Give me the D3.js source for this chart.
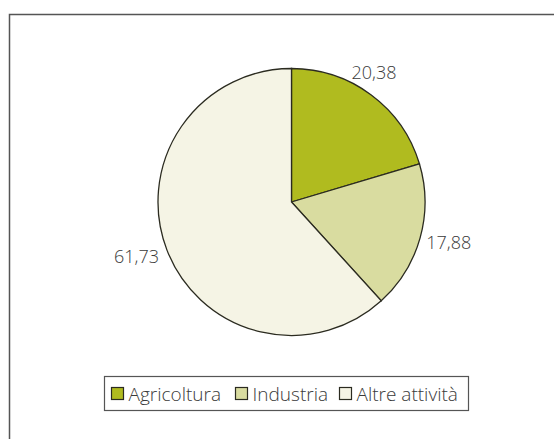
<!DOCTYPE html>
<html>
<head>
<meta charset="utf-8">
<script src="https://cdn.jsdelivr.net/npm/d3@7"></script>
<style>
  body { margin: 0; background: #fff; }
  text { font-family: "Open Sans", "Noto Sans", sans-serif; font-weight: 300; fill: #3a3a3a; }
</style>
</head>
<body>
<div id="chart"></div>
<script>
// data
var categories = ["Agricoltura", "Industria", "Altre attività"]
var values = [20.38, 17.88, 61.73]
var labels = ["20,38", "17,88", "61,73"]
var colors = ["#b0bb1f", "#d9dca0", "#f5f4e5"]

/**
 * Draw the pie chart with its legend
 */
function drawPieChart() {
    var width = 554, height = 439
    var cx = 291.5, cy = 202, radius = 133.5

    var svg = d3.select("#chart")
        .append("svg")
        .attr("width", width)
        .attr("height", height)

    // outer frame (open to the right and bottom, as in the picture)
    svg.append("rect")
        .attr("x", 9.5).attr("y", 14.5)
        .attr("width", 600).attr("height", 500)
        .attr("fill", "none")
        .attr("stroke", "#555")
        .attr("stroke-width", 1.5)

    var color = d3.scaleOrdinal().domain(categories).range(colors)

    var pie = d3.pie().sort(null).value(function (d) { return d.value })
    var data_ready = pie(categories.map(function (c, i) {
        return { key: c, value: values[i], label: labels[i] }
    }))

    var arc = d3.arc().innerRadius(0).outerRadius(radius)
    var g = svg.append("g").attr("transform", "translate(" + cx + "," + cy + ")")

    g.selectAll("path")
        .data(data_ready)
        .enter()
        .append("path")
        .attr("d", arc)
        .attr("fill", function (d) { return color(d.data.key) })
        .attr("stroke", "#2b2b20")
        .attr("stroke-width", 1.3)

    // value labels outside the slices
    var labelArc = d3.arc().innerRadius(radius + 38).outerRadius(radius + 38)
    var offsets = [[-20, 8], [-8, -6], [5, -8]]
    g.selectAll("text.val")
        .data(data_ready)
        .enter()
        .append("text")
        .attr("class", "val")
        .attr("x", function (d, i) { return labelArc.centroid(d)[0] + offsets[i][0] })
        .attr("y", function (d, i) { return labelArc.centroid(d)[1] + offsets[i][1] })
        .attr("text-anchor", "middle")
        .attr("dominant-baseline", "central")
        .style("font-size", "18px")
        .text(function (d) { return d.data.label })

    // legend
    var legend = svg.append("g")
    legend.append("rect")
        .attr("x", 104.5).attr("y", 376.5)
        .attr("width", 364).attr("height", 34)
        .attr("fill", "#fff")
        .attr("stroke", "#555")
        .attr("stroke-width", 1.2)

    var legendX = [111.5, 235.5, 339.5]
    var items = legend.selectAll("g.item")
        .data(categories)
        .enter()
        .append("g")
        .attr("class", "item")
        .attr("transform", function (d, i) { return "translate(" + legendX[i] + ",387.5)" })

    items.append("rect")
        .attr("width", 12).attr("height", 12)
        .attr("fill", function (d) { return color(d) })
        .attr("stroke", "#2b2b20")
        .attr("stroke-width", 1.2)

    items.append("text")
        .attr("x", 17).attr("y", 6)
        .attr("dominant-baseline", "central")
        .style("font-size", "19px")
        .text(function (d) { return d })
}

drawPieChart()
</script>
</body>
</html>
